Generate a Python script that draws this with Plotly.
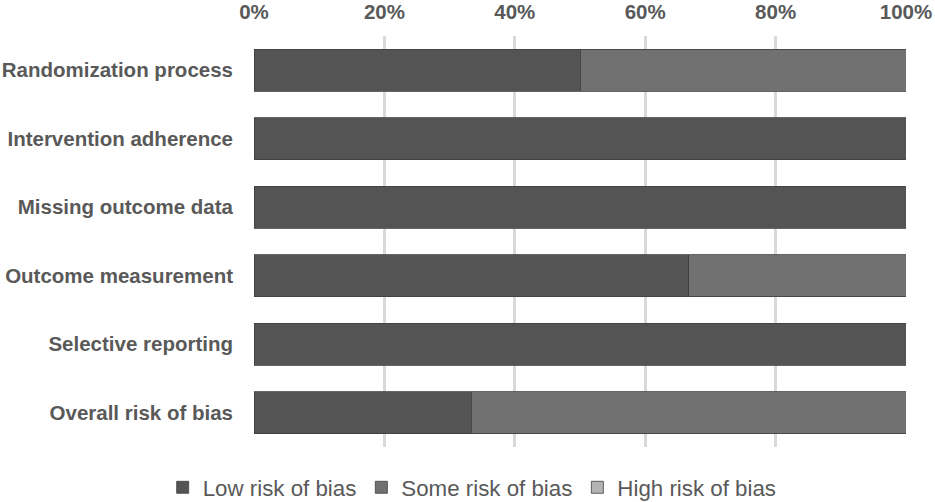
import plotly.graph_objects as go

categories = ["Randomization process", "Intervention adherence", "Missing outcome data",
              "Outcome measurement", "Selective reporting", "Overall risk of bias"]
low = [50, 100, 100, 66.7, 100, 33.3]
some = [50, 0, 0, 33.3, 0, 66.7]
high = [0, 0, 0, 0, 0, 0]
series_names = ["Low risk of bias", "Some risk of bias", "High risk of bias"]
colors = ["#545454", "#717171", "#b3b3b3"]
x_ticks = [0, 20, 40, 60, 80, 100]

FONT = "Liberation Sans, Arial, sans-serif"

fig = go.Figure()
for name, vals, col in zip(series_names, [low, some, high], colors):
    fig.add_trace(go.Bar(
        y=categories, x=vals, name=name, orientation="h",
        marker=dict(color=col, line=dict(color="#3f3f3f", width=0.8)),
        width=0.61,
    ))

fig.update_layout(
    width=935, height=502,
    barmode="stack",
    plot_bgcolor="white", paper_bgcolor="white",
    margin=dict(l=254, r=29, t=36, b=55, autoexpand=False),
    font=dict(family=FONT, color="#595959"),
    showlegend=True,
    legend=dict(orientation="h", xref="container", x=0.505, xanchor="center",
                y=-0.047, yanchor="top",
                font=dict(size=22.3, color="#595959", family=FONT), traceorder="normal",
                itemwidth=30),
    xaxis=dict(side="top", range=[0, 100], tickvals=x_ticks,
               ticktext=[f"{v}%" for v in x_ticks],
               showgrid=True, gridcolor="#d9d9d9", gridwidth=2.5,
               zeroline=False, showline=False, automargin=False,
               tickfont=dict(size=20.5, color="#595959", family=FONT, weight="bold"),
               ticklabelstandoff=12),
    yaxis=dict(categoryorder="array", categoryarray=categories[::-1],
               showgrid=False, zeroline=False, showline=False, automargin=False,
               tickfont=dict(size=20.5, color="#595959", family=FONT, weight="bold"),
               ticklabelstandoff=20),
)

fig.write_html("out.html",
               config={"displayModeBar": False},
               post_script="document.body.style.margin='0';document.body.style.overflow='hidden';")
